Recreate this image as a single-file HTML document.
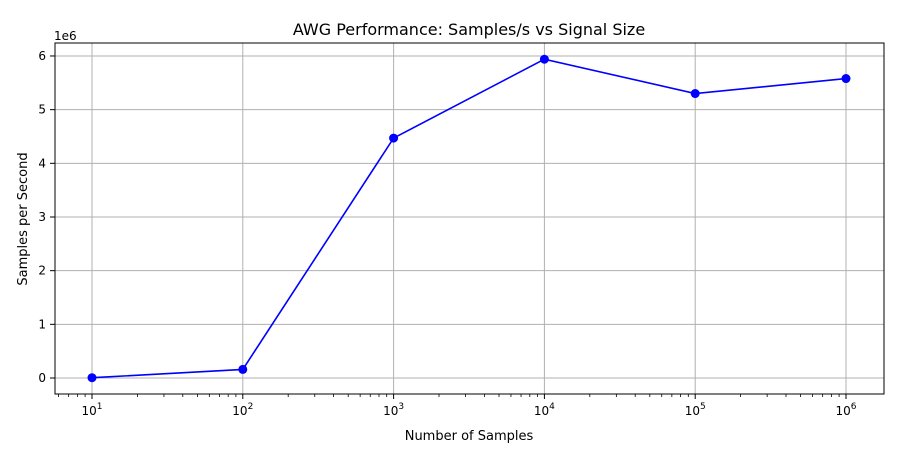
<!DOCTYPE html>
<html><head><meta charset="utf-8"><style>
body{margin:0;background:#fff;font-family:"Liberation Sans","DejaVu Sans",sans-serif;}
</style></head><body>
<svg width="907" height="444" xmlns="http://www.w3.org/2000/svg" font-family="'DejaVu Sans','Liberation Sans',sans-serif">
<text x="469" y="35" font-size="16" text-anchor="middle">AWG Performance: Samples/s vs Signal Size</text>
<g id="grid"></g>
<g id="axes"></g>
<g id="series"></g>
<rect x="55" y="43" width="829" height="351" fill="none" stroke="#000" stroke-width="1"/>
<text x="54" y="40" font-size="12">1e6</text>
<text x="469" y="440" font-size="13" text-anchor="middle">Number of Samples</text>
<text transform="translate(27,219) rotate(-90)" font-size="13" text-anchor="middle">Samples per Second</text>
</svg>
<script>
const xValues=[10,100,1000,10000,100000,1000000];
const yValues=[0.005,0.16,4.47,5.94,5.30,5.58];
const xTickExps=[1,2,3,4,5,6];
const yTicks=[0,1,2,3,4,5,6];
const NS="http://www.w3.org/2000/svg";
function sx(v){return 92+(Math.log10(v)-1)*150.8;}
function sy(v){return 378-v*53.67;}
function mk(t,a,p){const e=document.createElementNS(NS,t);for(const k in a)e.setAttribute(k,a[k]);p.appendChild(e);return e;}
const g=document.getElementById('grid'),ax=document.getElementById('axes'),s=document.getElementById('series');
xTickExps.forEach(ex=>{const x=sx(Math.pow(10,ex));
const l=mk('line',{x1:x,x2:x,y1:43,y2:394,stroke:'#b0b0b0','stroke-width':1},g);


mk('line',{x1:x,x2:x,y1:394,y2:399,stroke:'#000'},ax);
const t=mk('text',{x:x,y:415,'font-size':12,'text-anchor':'middle'},ax);


t.innerHTML='10<tspan dy="-6" font-size="9">'+ex+'</tspan>';});
for(let ex=0;ex<=6;ex++){for(let m=2;m<=9;m++){const v=m*Math.pow(10,ex);const x=sx(v);if(x<55||x>884)continue;mk('line',{x1:x,x2:x,y1:394,y2:397,stroke:'#000','stroke-width':0.8},ax);}}
yTicks.forEach(v=>{const y=sy(v);
const l=mk('line',{x1:55,x2:884,y1:y,y2:y,stroke:'#b0b0b0','stroke-width':1},g);


mk('line',{x1:50,x2:55,y1:y,y2:y,stroke:'#000'},ax);
const t=mk('text',{x:46,y:y+4,'font-size':12,'text-anchor':'end'},ax);


t.textContent=v;});
const pts=xValues.map((x,i)=>sx(x)+','+sy(yValues[i])).join(' ');
const pl=mk('polyline',{points:pts,fill:'none',stroke:'#0000ff','stroke-width':1.6},s);


xValues.forEach((x,i)=>{const c=mk('circle',{cx:sx(x),cy:sy(yValues[i]),r:4.5,fill:'#0000ff'},s);

});
</script>
</body></html>
